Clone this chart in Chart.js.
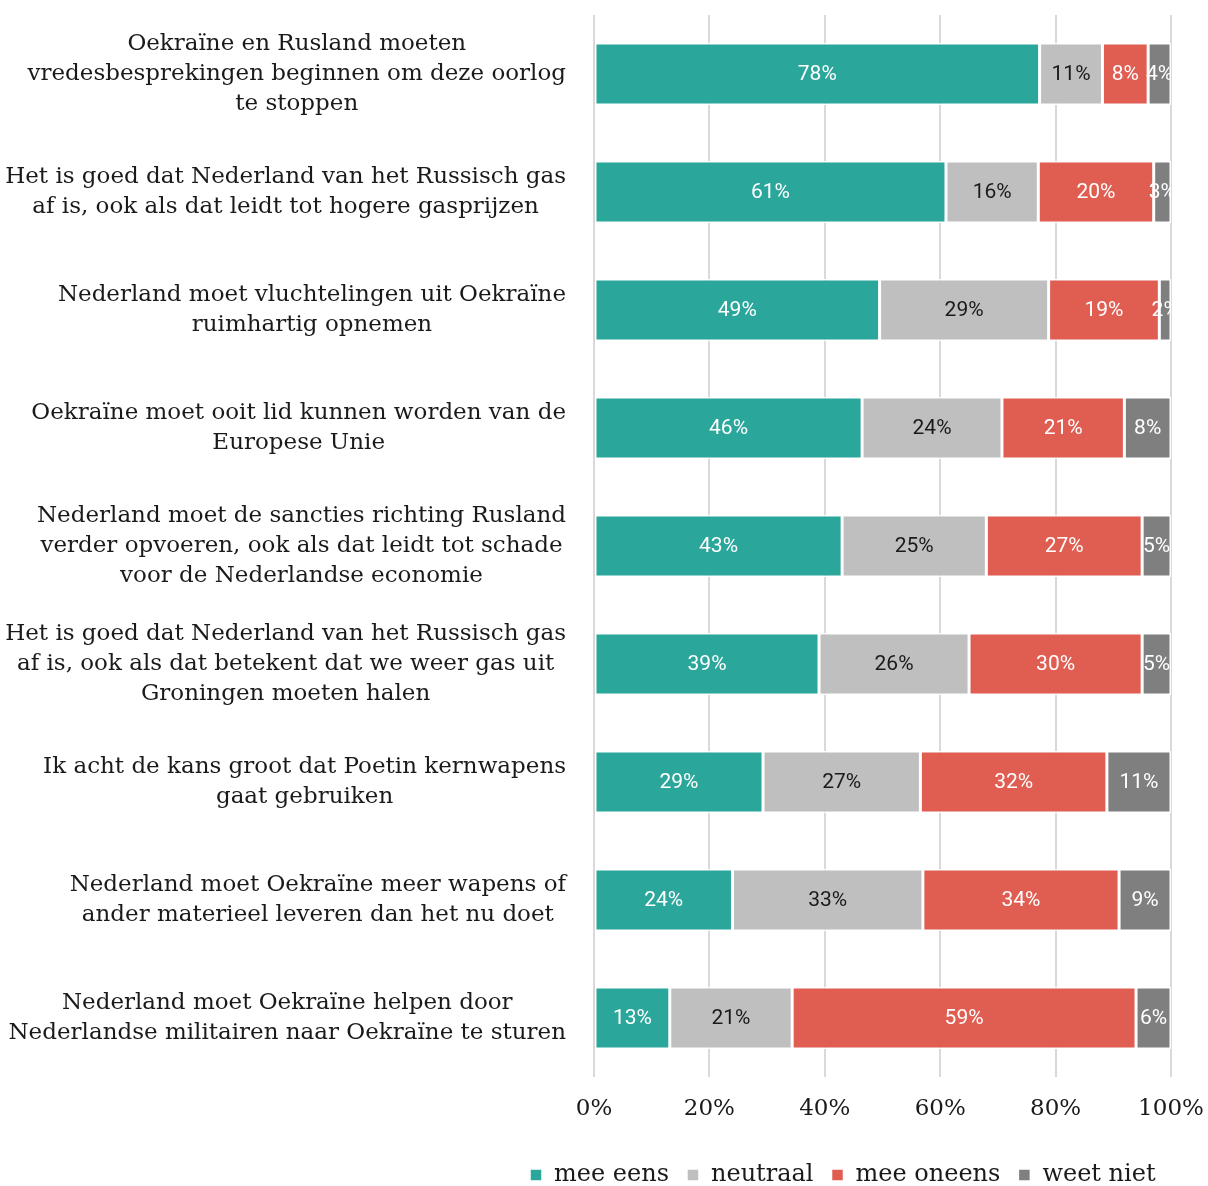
<!DOCTYPE html>
<html lang="nl">
<head>
<meta charset="utf-8">
<title>Stellingen over de oorlog in Oekraïne</title>
<script src="https://cdn.jsdelivr.net/npm/chart.js@4.4.1/dist/chart.umd.min.js"></script>
<style>
  html, body { margin: 0; padding: 0; background: #fff; }
  #wrap { position: relative; width: 1208px; height: 1186px; }
</style>
</head>
<body>
<div id="wrap"><canvas id="chart"></canvas></div>
<script>
// statements, top to bottom (each entry = the wrapped lines)
const statements = [
  ['Oekraïne en Rusland moeten', 'vredesbesprekingen beginnen om deze oorlog', 'te stoppen'],
  ['Het is goed dat Nederland van het Russisch gas', 'af is, ook als dat leidt tot hogere gasprijzen'],
  ['Nederland moet vluchtelingen uit Oekraïne', 'ruimhartig opnemen'],
  ['Oekraïne moet ooit lid kunnen worden van de', 'Europese Unie'],
  ['Nederland moet de sancties richting Rusland', 'verder opvoeren, ook als dat leidt tot schade', 'voor de Nederlandse economie'],
  ['Het is goed dat Nederland van het Russisch gas', 'af is, ook als dat betekent dat we weer gas uit', 'Groningen moeten halen'],
  ['Ik acht de kans groot dat Poetin kernwapens', 'gaat gebruiken'],
  ['Nederland moet Oekraïne meer wapens of', 'ander materieel leveren dan het nu doet'],
  ['Nederland moet Oekraïne helpen door', 'Nederlandse militairen naar Oekraïne te sturen']
];

const seriesNames = ['mee eens', 'neutraal', 'mee oneens', 'weet niet'];
const meeEens   = [78, 61, 49, 46, 43, 39, 29, 24, 13];
const neutraal  = [11, 16, 29, 24, 25, 26, 27, 33, 21];
const meeOneens = [8, 20, 19, 21, 27, 30, 32, 34, 59];
const weetNiet  = [4, 3, 2, 8, 5, 5, 11, 9, 6];
const xTicks = [0, 20, 40, 60, 80, 100];

const seriesColors = ['#2ba69b', '#bfbfbf', '#e05d52', '#7f7f7f'];
const labelColors = ['#ffffff', '#1a1a1a', '#ffffff', '#ffffff'];

const serif = '"DejaVu Serif", serif';
const textColor = '#1a1a1a';

// rows are rounded, so scale each row to a full 100% bar
const allSeries = [meeEens, neutraal, meeOneens, weetNiet];
const rowTotals = statements.map((_, i) => allSeries.reduce((s, arr) => s + arr[i], 0));

const datasets = allSeries.map((vals, d) => ({
  label: seriesNames[d],
  data: vals.map((v, i) => v / rowTotals[i] * 100),
  shown: vals,
  backgroundColor: seriesColors[d],
  borderColor: '#ffffff',
  borderWidth: 1.5,
  borderSkipped: false,
  barPercentage: 0.525,
  categoryPercentage: 1
}));

// multi-line statements: block right aligned, lines centred in the block
const statementLabels = {
  id: 'statementLabels',
  afterDraw(chart) {
    const ctx = chart.ctx;
    const yScale = chart.scales.y;
    const right = yScale.right - 28;
    const lineH = 30;
    ctx.save();
    ctx.font = '23px ' + serif;
    ctx.fillStyle = textColor;
    ctx.textAlign = 'center';
    ctx.textBaseline = 'middle';
    statements.forEach((lines, i) => {
      const widest = Math.max(...lines.map(l => ctx.measureText(l).width));
      const cx = right - widest / 2;
      const cy = yScale.getPixelForValue(i);
      const top = cy - (lines.length - 1) * lineH / 2;
      lines.forEach((l, j) => ctx.fillText(l, cx, top + j * lineH));
    });
    ctx.restore();
  }
};

// percentage in the middle of each segment, clipped to the plot
const segmentLabels = {
  id: 'segmentLabels',
  afterDatasetsDraw(chart) {
    const { ctx, chartArea } = chart;
    ctx.save();
    ctx.beginPath();
    ctx.rect(chartArea.left, chartArea.top, chartArea.width, chartArea.height);
    ctx.clip();
    ctx.font = '21px Roboto';
    ctx.textAlign = 'center';
    ctx.textBaseline = 'middle';
    chart.data.datasets.forEach((ds, d) => {
      const meta = chart.getDatasetMeta(d);
      ctx.fillStyle = labelColors[d];
      meta.data.forEach((bar, i) => {
        ctx.fillText(ds.shown[i] + '%', (bar.x + bar.base) / 2, bar.y + 1);
      });
    });
    ctx.restore();
  }
};

// legend sits under the right part of the chart
const legendPlace = {
  id: 'legendPlace',
  afterLayout(chart) {
    const lg = chart.legend;
    const w = lg.width, h = lg.height;
    lg.left = 512;
    lg.right = lg.left + w;
    lg.top = 1145;
    lg.bottom = lg.top + h;
  }
};

new Chart(document.getElementById('chart'), {
  type: 'bar',
  data: { labels: statements.map(s => s.join(' ')), datasets: datasets },
  options: {
    indexAxis: 'y',
    responsive: true,
    maintainAspectRatio: false,
    animation: false,
    layout: { padding: { top: 15, right: 37, left: 0, bottom: 0 } },
    scales: {
      x: {
        stacked: true,
        min: 0,
        max: 100,
        afterBuildTicks: (scale) => { scale.ticks = xTicks.map(v => ({ value: v })); },
        afterFit: (scale) => {
          scale.height = 57;
          scale.paddingLeft = 0;
          scale.paddingRight = 0;
        },
        border: { display: false },
        grid: { color: '#d9d9d9', lineWidth: 2, drawTicks: false },
        ticks: {
          padding: 18,
          color: textColor,
          font: { family: serif, size: 23 },
          callback: (v) => v + '%'
        }
      },
      y: {
        stacked: true,
        afterFit: (scale) => { scale.width = 594; },
        border: { display: false },
        grid: { display: false },
        ticks: { display: false }
      }
    },
    plugins: {
      legend: {
        position: 'bottom',
        align: 'start',
        labels: {
          color: textColor,
          font: { family: serif, size: 24 },
          boxWidth: 12,
          boxHeight: 12,
          padding: 18
        }
      },
      tooltip: { enabled: false }
    }
  },
  plugins: [statementLabels, segmentLabels, legendPlace]
});
</script>
</body>
</html>
